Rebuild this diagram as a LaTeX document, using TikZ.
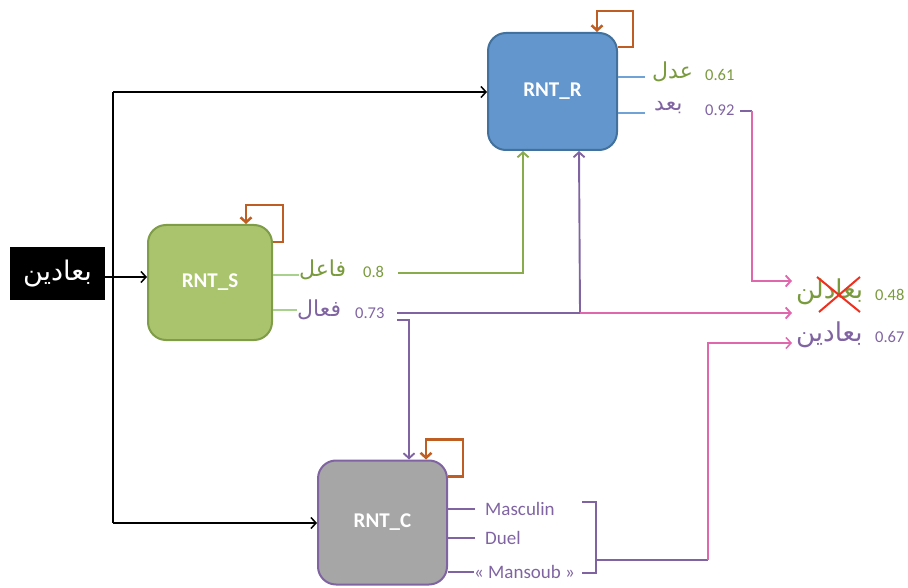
\documentclass[tikz,border=0pt]{standalone}
\usepackage{fontspec}
\setmainfont{Carlito}
\newfontfamily\arab[Script=Arabic]{DejaVu Sans}
\TeXXeTstate=1
\usetikzlibrary{arrows.meta,calc}
\definecolor{bfill}{HTML}{6396CC}
\definecolor{bdraw}{HTML}{41719C}
\definecolor{gfill}{HTML}{A9C46C}
\definecolor{gdraw}{HTML}{7F9C48}
\definecolor{cfill}{HTML}{A6A6A6}
\definecolor{pur}{HTML}{8064A2}
\definecolor{lgreen}{HTML}{7A9A3E}
\definecolor{gline}{HTML}{8AAA4E}
\definecolor{pnk}{HTML}{E066AE}
\definecolor{brn}{HTML}{BE5E22}
\definecolor{stubb}{HTML}{6FA3D8}
\definecolor{stubg}{HTML}{A9D18E}
\definecolor{xred}{HTML}{F0301E}
\begin{document}
\begin{tikzpicture}[x=1pt,y=-1pt,
  rbox/.style={rectangle, rounded corners=18pt, line width=2pt, text=white, inner sep=0pt,
    font=\fontsize{21}{24}\selectfont\bfseries},
  ar/.style={font=\arab\fontsize{22}{26}\selectfont, inner sep=0pt, anchor=west},
  num/.style={font=\fontsize{16.5}{19}\selectfont, inner sep=0pt, anchor=west},
  lat/.style={font=\fontsize{19}{22}\selectfont, inner sep=0pt, anchor=west, text=pur},
  conn/.style={line width=1.9pt},
  arr/.style={-{Straight Barb[length=5pt,width=11pt]}},
  stub/.style={line width=1.5pt},
  loopc/.style={line width=2.5pt, draw=brn, -{Straight Barb[length=5pt,width=11pt]}}
]
\useasboundingbox (0,0) rectangle (908,588);

% main boxes
\node[rbox, fill=bfill, draw=bdraw, minimum width=129pt, minimum height=117pt] (R) at (552.5,91.5) {RNT\_R};
\node[rbox, fill=gfill, draw=gdraw, minimum width=124pt, minimum height=115pt] (S) at (210,282.5) {RNT\_S};
\node[rbox, fill=cfill, draw=pur, minimum width=129pt, minimum height=124pt] (C) at (382.5,522.5) {RNT\_C};
\node[fill=black, minimum width=95pt, minimum height=53pt, inner sep=0pt, text=white,
  font=\arab\fontsize{27}{30}\selectfont] (in) at (57.5,273.5) {\beginR بعادين\endR};

% self loops
\draw[loopc] ($(R.north east)+(0,15)$) -- ++(15,0) -- ++(0,-36) -| ($(R.north east)+(-21,0)$);
\draw[loopc] ($(S.north east)+(0,18)$) -- ++(10,0) -- ++(0,-37) -| ($(S.north east)+(-27,0)$);
\draw[loopc] ($(C.north east)+(0,17)$) -- ++(15,0) -- ++(0,-37) -| ($(C.north east)+(-22,0)$);

% input distribution
\coordinate (jt) at (113,92);
\coordinate (jm) at (113,277);
\coordinate (jb) at (113,523);
\draw[conn, line width=1.5pt] (jt) -- (jb);
\draw[conn, line width=1.5pt, arr] (jt) -- (R.west |- jt);
\draw[conn, line width=1.5pt, arr] (jb) -- (C.west |- jb);
\draw[conn, line width=1.5pt] (in.east |- jm) -- (jm);
\draw[conn, line width=1.5pt, arr] (jm) -- (S.west |- jm);

% RNT_R outputs
\node[ar, text=lgreen] (r1) at (652,72) {\beginR عدل\endR};
\node[num, text=lgreen] (r1n) at (705,75) {0.61};
\node[ar, text=pur] (r2) at (654,108) {\beginR بعد\endR};
\node[num, text=pur] (r2n) at (705,110) {0.92};
\draw[stub, stubb, shorten >=7pt] (R.east |- 0,77) -- (r1.west |- 0,77);
\draw[stub, stubb, shorten >=9pt] (R.east |- 0,113) -- (r2.west |- 0,113);

% RNT_S outputs
\node[ar, text=lgreen] (s1) at (299,270) {\beginR فاعل\endR};
\node[num, text=lgreen] (s1n) at (363,272) {0.8};
\node[ar, text=pur] (s2) at (297,310) {\beginR فعال\endR};
\node[num, text=pur] (s2n) at (355,313) {0.73};
\draw[stub, stubg] (S.east |- 0,275) -- (s1.west |- 0,275);
\draw[stub, stubg] (S.east |- 0,310) -- (s2.west |- 0,310);

% RNT_C outputs
\node[lat] (c1) at (485,509) {Masculin};
\node[lat] (c2) at (485,538) {Duel};
\node[lat] (c3) at (474,572) {« Mansoub »};
\draw[stub, pur, shorten >=10pt] (C.east |- c1) -- (c1.west);
\draw[stub, pur, shorten >=10pt] (C.east |- c2) -- (c2.west);
\draw[stub, pur] (C.east |- c3) -- (c3.west);

% results
\node[ar, text=lgreen, font=\arab\fontsize{26}{30}\selectfont] (o1) at (796,292) {\beginR بعادلن\endR};
\node[num, text=lgreen] (o1n) at (875,295) {0.48};
\node[ar, text=pur, font=\arab\fontsize{26}{30}\selectfont] (o2) at (796,335) {\beginR بعادين\endR};
\node[num, text=pur] (o2n) at (875,337) {0.67};
\draw[xred, line width=2pt] ($(o1.west)+(21,-15)$) -- ($(o1.west)+(64,20)$);
\draw[xred, line width=2pt] ($(o1.west)+(23,20)$) -- ($(o1.west)+(64,-15)$);

% green connector S -> R
\coordinate (gs) at (398,273);
\draw[conn, gline, arr] (gs) -| ($(R.south west)+(36,0)$);

% purple connectors
\coordinate (ps) at (397,313);
\coordinate (pj) at (580,313);
\draw[conn, pur] (ps) -- (pj);
\draw[conn, pur, arr] (pj) -- ($(R.south west)+(92,0)$);
\coordinate (pd) at (397,320);
\draw[conn, pur, arr] (pd) -| ($(C.north west)+(92,0)$);

% pink connectors to results
\coordinate (ta) at (792,281);
\coordinate (tb) at (792,313);
\coordinate (tc) at (792,343);
\draw[conn, pnk, arr] (pj) -- (tb);
\coordinate (qa) at (740,111);
\coordinate (qb) at (752,111);
\draw[conn, pur] (qa) -- (qb);
\draw[conn, pnk, arr] (qb) |- (ta);

% bracket
\coordinate (b1) at (582,502);
\coordinate (b2) at (596,502);
\coordinate (b3) at (596,573);
\coordinate (b4) at (582,573);
\draw[conn, pur, line width=1.5pt] (b1) -- (b2) -- (b3) -- (b4);
\coordinate (bm) at (596,560);
\coordinate (bk) at (708,560);
\draw[conn, pur, line width=1.5pt] (bm) -- (bk);
\draw[conn, pnk, line width=1.5pt, arr] (bk) |- (tc);
\end{tikzpicture}
\end{document}
